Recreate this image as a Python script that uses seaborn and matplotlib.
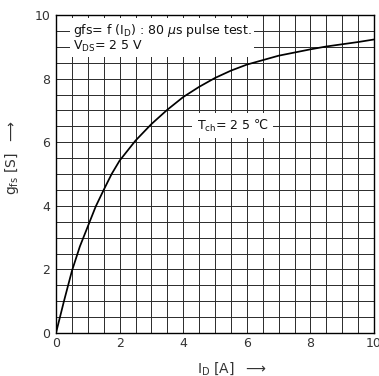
import matplotlib
matplotlib.use("Agg")
import matplotlib.pyplot as plt
import seaborn as sns
import numpy as np
import pandas as pd

# Data
i_d = [0, 0.25, 0.5, 0.75, 1.0, 1.25, 1.5, 1.75, 2.0, 2.5, 3.0, 3.5, 4.0, 4.5,
       5.0, 5.5, 6.0, 6.5, 7.0, 7.5, 8.0, 8.5, 9.0, 9.5, 10.0]
gfs = [0, 1.0, 1.95, 2.72, 3.35, 3.98, 4.5, 5.0, 5.42, 6.05, 6.57, 7.02, 7.42, 7.74,
       8.02, 8.25, 8.44, 8.58, 8.72, 8.82, 8.92, 9.01, 9.08, 9.15, 9.23]
xticks = [0, 2, 4, 6, 8, 10]
yticks = [0, 2, 4, 6, 8, 10]

sns.set_style("white")
plt.rcParams['font.family'] = ['DejaVu Sans']

fig = plt.figure(figsize=(3.79, 3.76), dpi=100)
ax = fig.add_axes([56/379, 1-333/376, 318/379, 318/376])

df = pd.DataFrame({"ID": i_d, "gfs": gfs})
sns.lineplot(data=df, x="ID", y="gfs", ax=ax, color="black", linewidth=1.25, zorder=5)

ax.set_xlim(0, 10)
ax.set_ylim(0, 10)
ax.set_xticks(xticks)
ax.set_yticks(yticks)
ax.set_xticklabels([str(t) for t in xticks])
ax.set_yticklabels([str(t) for t in yticks])
ax.set_xticks(np.arange(0, 10.01, 0.5), minor=True)
ax.set_yticks(np.arange(0, 10.01, 0.5), minor=True)
ax.grid(which="both", color="#2a2a2a", linewidth=0.7)
ax.set_axisbelow(True)
ax.tick_params(which="both", length=0)
ax.tick_params(axis="both", labelsize=9, labelcolor="#333333")
ax.tick_params(axis="y", pad=4)
ax.tick_params(axis="x", pad=3)
for s in ax.spines.values():
    s.set_color("black")
    s.set_linewidth(1.0)

ax.set_xlabel(r"I$_{\rm D}$ [A]  $\longrightarrow$", fontsize=10, color="#333333")
ax.set_ylabel(r"g$_{\rm fs}$ [S]  $\longrightarrow$", fontsize=10, color="#333333")
ax.xaxis.set_label_coords(0.553, -0.085)
ax.yaxis.set_label_coords(-0.11, 0.55)

ax.text(0.52, 9.28, r"gfs= f (I$_{\rm D}$) : 80 $\mu$s pulse test." + "\n" + r"V$_{\rm DS}$= 2 5 V",
        fontsize=9, va="center", ha="left", color="#111111", linespacing=1.0,
        bbox=dict(facecolor="white", edgecolor="none", pad=2), zorder=6)
ax.text(4.42, 6.52, "T$_{\\rm ch}$= 2 5 ℃", fontsize=9, va="center", ha="left",
        color="#111111", bbox=dict(facecolor="white", edgecolor="none", pad=3), zorder=6)

fig.savefig("out.png", dpi=100)
